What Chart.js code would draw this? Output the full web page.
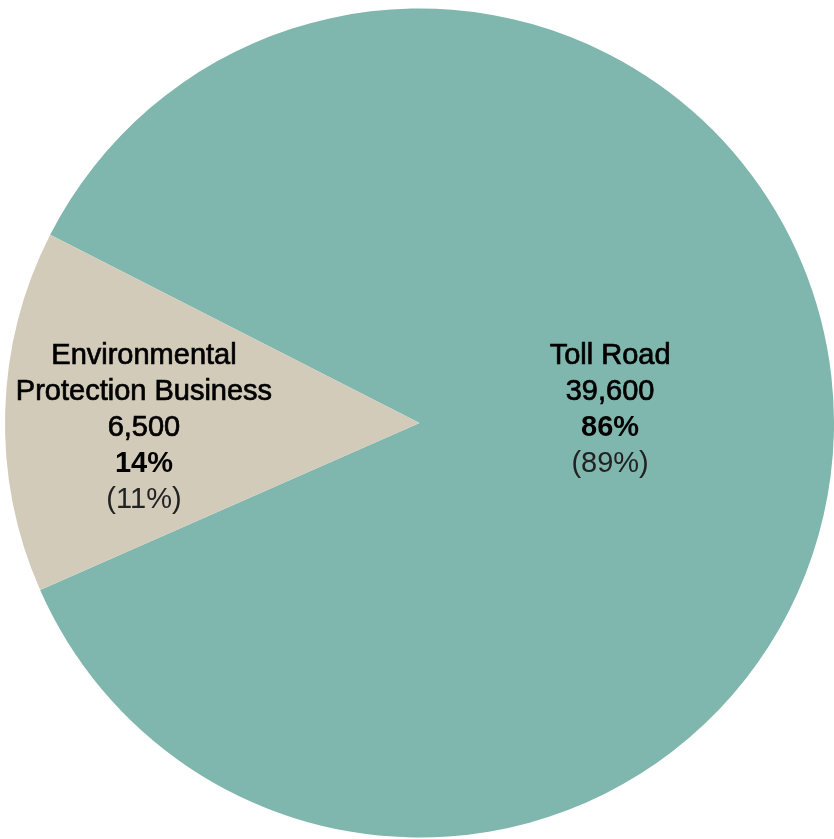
<!DOCTYPE html>
<html>
<head>
<meta charset="utf-8">
<title>Revenue by segment</title>
<script src="https://cdn.jsdelivr.net/npm/chart.js@4/dist/chart.umd.min.js"></script>
<style>
  html, body { margin: 0; padding: 0; background: #fff; }
  #chart { display: block; }
</style>
</head>
<body>
<canvas id="chart" width="834" height="839"></canvas>
<script>
// segments, current amounts, rounded share and prior-year share
const categories = ['Toll Road', ['Environmental', 'Protection Business']];
const amounts = [39600, 6500];
const shares = ['86%', '14%'];
const priorShares = ['(89%)', '(11%)'];
const colors = ['#7fb6ad', '#d3cbba'];

/* ===== Slice labels ===== */

const FONT = '29px "Liberation Sans", Arial, sans-serif';

const sliceLabels = {
  id: 'sliceLabels',
  afterDatasetsDraw(chart, args, opts) {
    const ctx = chart.ctx;
    const meta = chart.getDatasetMeta(0);
    meta.data.forEach((arc, i) => {
      const mid = (arc.startAngle + arc.endAngle) / 2;
      const r = arc.outerRadius * opts.radius[i];
      const cx = arc.x + Math.cos(mid) * r;
      const cy = arc.y + Math.sin(mid) * r + opts.shiftY[i];

      const name = [].concat(categories[i]);
      const lines = [
        ...name.map(t => ({ t, font: 'normal ' + FONT, color: '#000', stroke: 0.7 })),
        { t: amounts[i].toLocaleString('en-US'), font: 'normal ' + FONT, color: '#000', stroke: 0.7 },
        { t: shares[i], font: 'bold ' + FONT, color: '#000', stroke: 0 },
        { t: priorShares[i], font: 'normal ' + FONT, color: '#222', stroke: 0 }
      ];

      const lh = 36;
      const top = cy - (lines.length - 1) * lh / 2;
      ctx.save();
      ctx.textAlign = 'center';
      ctx.textBaseline = 'middle';
      lines.forEach((l, k) => {
        ctx.font = l.font;
        ctx.fillStyle = l.color;
        ctx.fillText(l.t, cx, top + k * lh);
        if (l.stroke) {
          ctx.strokeStyle = l.color;
          ctx.lineWidth = l.stroke;
          ctx.strokeText(l.t, cx, top + k * lh);
        }
      });
      ctx.restore();
    });
  }
};

/* ===== Chart ===== */

new Chart(document.getElementById('chart'), {
  type: 'pie',
  data: {
    labels: categories,
    datasets: [{
      data: amounts,
      backgroundColor: colors,
      borderWidth: 0
    }]
  },
  options: {
    responsive: false,
    animation: false,
    rotation: 297,
    layout: { padding: { left: 5, right: 0, top: 7, bottom: 0 } },
    plugins: {
      legend: { display: false },
      tooltip: { enabled: false },
      sliceLabels: {
        radius: [0.46, 0.665],
        shiftY: [-18, 13]
      }
    }
  },
  plugins: [sliceLabels]
});
</script>
</body>
</html>
